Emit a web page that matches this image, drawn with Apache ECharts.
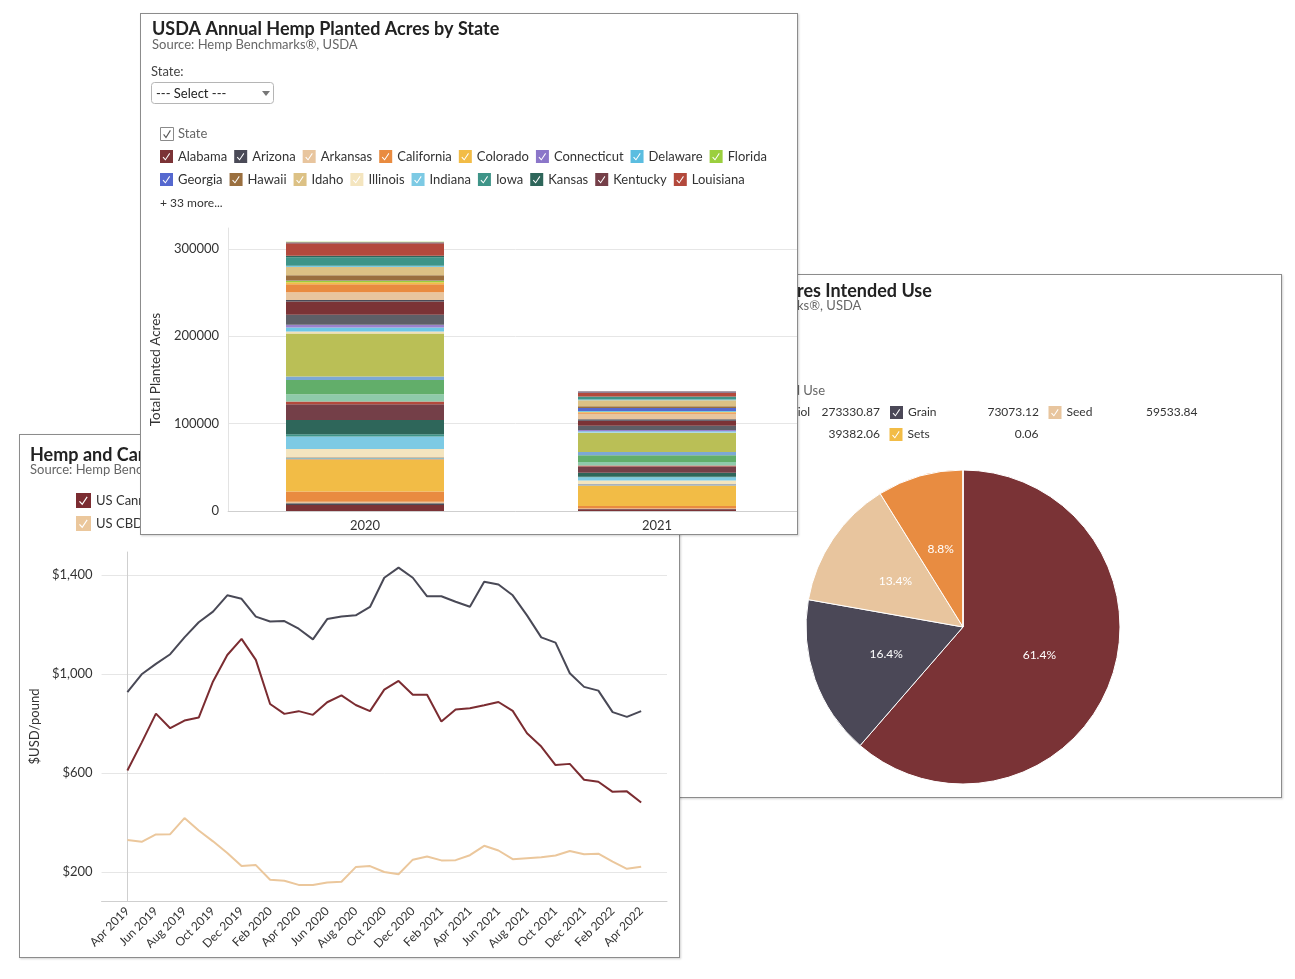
<!DOCTYPE html>
<html><head><meta charset="utf-8">
<script src="https://cdn.jsdelivr.net/npm/echarts@6/dist/echarts.min.js"></script>
<style>
html,body{margin:0;padding:0;background:#fff;width:1295px;height:979px;overflow:hidden;font-family:Lato,sans-serif}
.panel{position:absolute;background:#fff;border:1px solid #8c8c8c;box-sizing:border-box;box-shadow:1px 1px 2px rgba(0,0,0,0.18);overflow:hidden}
.chart{position:absolute;left:0;top:0;width:100%;height:100%}
</style></head><body>
<div class="panel" style="left:600px;top:274px;width:682px;height:524px;z-index:1"><div class="chart" id="cPie"></div></div>
<div class="panel" style="left:19px;top:434px;width:661px;height:524px;z-index:2"><div class="chart" id="cLine"></div></div>
<div class="panel" style="left:140px;top:13px;width:658px;height:522px;z-index:3"><div class="chart" id="cBar" style="width:720px"></div></div>
<script>
// ---------- data: planted acres by state ----------
const barCategories = ['2020', '2021'];
const states = ['Alabama','Arizona','Arkansas','California','Colorado','Connecticut','Delaware','Florida','Georgia','Hawaii','Idaho','Illinois','Indiana','Iowa','Kansas','Kentucky','Louisiana','Maine','Maryland','Massachusetts','Michigan','Minnesota','Mississippi','Missouri','Montana','Nebraska','Nevada','New Hampshire','New Jersey','New Mexico','New York','North Carolina','North Dakota','Ohio','Oklahoma','Oregon','Pennsylvania','Rhode Island','South Carolina','South Dakota','Tennessee','Texas','Utah','Vermont','Virginia','Washington','West Virginia','Wisconsin','Wyoming','Other States'];
const acres2020 = [6900,1900,1900,11500,37100,300,400,300,600,300,500,9200,14400,2600,16400,18000,3000,8400,16400,3800,49200,2300,4600,3100,11500,15200,1900,8800,9200,2300,1500,150,150,6100,9500,1500,9500,1900,14200,900,100,100,100,100,100,100,100,100,100,100];
const acres2021 = [1900,300,700,2700,23700,200,200,300,500,200,300,3800,3800,600,4600,7200,1000,4200,7600,3800,21800,600,1400,1400,4900,5700,1500,6500,1500,300,300,1000,3400,1900,7000,800,3100,500,4600,800,80,80,80,80,80,80,80,80,80,80];
const acreTicks = [0, 100000, 200000, 300000];
const legendRow1 = states.slice(0, 8);
const legendRow2 = states.slice(8, 17);

// ---------- data: prices ----------
const months = ['Apr 2019','May 2019','Jun 2019','Jul 2019','Aug 2019','Sep 2019','Oct 2019','Nov 2019','Dec 2019','Jan 2020','Feb 2020','Mar 2020','Apr 2020','May 2020','Jun 2020','Jul 2020','Aug 2020','Sep 2020','Oct 2020','Nov 2020','Dec 2020','Jan 2021','Feb 2021','Mar 2021','Apr 2021','May 2021','Jun 2021','Jul 2021','Aug 2021','Sep 2021','Oct 2021','Nov 2021','Dec 2021','Jan 2022','Feb 2022','Mar 2022','Apr 2022'];
const cannabisOutdoor = [610,723,840,781,812,824,970,1077,1142,1057,879,839,850,835,886,914,875,850,937,972,916,916,808,857,862,874,887,851,761,707,632,637,573,565,524,526,481];
const cannabisSpot = [927,999,1041,1080,1148,1209,1252,1318,1304,1232,1212,1214,1183,1140,1222,1232,1237,1271,1389,1430,1389,1314,1314,1292,1272,1373,1362,1318,1237,1148,1127,1003,948,933,846,827,850];
const cbdFlower = [329,322,352,353,418,368,324,277,224,228,169,165,148,148,158,161,220,224,200,191,250,263,247,248,268,306,287,252,256,260,267,285,272,274,242,213,221];
const priceTicks = [200, 600, 1000, 1400];
const priceNames = ['US Cannabis Outdoor Price', 'US Cannabis Spot Index', 'US CBD Flower Price'];

// ---------- data: intended use ----------
const useNames = ['Cannabidiol', 'Grain', 'Seed', 'Fiber', 'Sets'];
const useAcres = [273330.87, 73073.12, 59533.84, 39382.06, 0.06];

// ---------- styles ----------
const stateColors = ['#7b3336','#4a4a57','#e8c59e','#e98b40','#f2bc46','#8b76c9','#5bbde0','#9bcf3e','#5568cf','#9a6f3f','#dcc185','#f4e5bf','#7dcae4','#3e9488','#2e665a','#743f48','#b3493c','#8fcaaa','#62ae6a','#7ca8d4','#babf56','#f1e0b8','#6cc6e6','#9a81cc','#5e5f67','#7b3336','#4a4a57','#e8c59e','#e98b40','#f2bc46','#9bcf3e','#5bbde0','#5568cf','#9a6f3f','#dcc185','#7dcae4','#3e9488','#2e665a','#b3493c','#4b5f8f','#7b3336','#4a4a57','#e8c59e','#e98b40','#f2bc46','#8b76c9','#5bbde0','#9bcf3e','#5568cf','#9a6f3f'];
const priceColors = ['#7b2c31', '#494956', '#ebc79c'];
const useColors = ['#7a3336', '#4b4857', '#e8c59e', '#e88c41', '#f2bc46'];
const FONT = 'Lato';
const CHECK = 'path://M0,0H16V16H0Z M4.2,8.4L3.2,9.3L6.7,13L12.4,4.6L11.4,3.8L6.6,11Z';

function measure(txt, font) {
  const c = document.createElement('canvas').getContext('2d');
  c.font = font; return c.measureText(txt).width;
}
function hollowCheck(x, y) {
  return [
    {type:'rect', shape:{x:x+0.5, y:y+0.5, width:13, height:13}, style:{fill:'#fff', stroke:'#8a8a8a', lineWidth:1}},
    {type:'polyline', shape:{points:[[x+3.6,y+7.4],[x+6,y+10.6],[x+10.4,y+3.4]]}, style:{stroke:'#555', lineWidth:1.1, fill:null}}
  ];
}

// ---------- bar chart ----------
const barChart = echarts.init(document.getElementById('cBar'), null, {renderer:'canvas'});
const legendBase = {icon:CHECK, itemWidth:13, itemHeight:13, itemGap:7, selectedMode:false, padding:0,
  itemStyle:{borderWidth:0}, textStyle:{fontSize:13, color:'#333', fontFamily:FONT}};
barChart.setOption({
  animation:false,
  textStyle:{fontFamily:FONT},
  graphic:[
    {type:'text', x:11, y:15, style:{text:'USDA Annual Hemp Planted Acres by State', font:'bold 18px Lato', fill:'#222', verticalAlign:'middle'}},
    {type:'text', x:11, y:31, style:{text:'Source: Hemp Benchmarks®, USDA', font:'13px Lato', fill:'#666', verticalAlign:'middle'}},
    {type:'text', x:10, y:58, style:{text:'State:', font:'13px Lato', fill:'#444', verticalAlign:'middle'}},
    {type:'rect', shape:{x:10.5, y:68.5, width:122, height:21, r:3}, style:{fill:'#fff', stroke:'#b5b5b5', lineWidth:1}},
    {type:'text', x:15, y:79.5, style:{text:'--- Select ---', font:'13px Lato', fill:'#222', verticalAlign:'middle'}},
    {type:'polygon', shape:{points:[[121,77],[129,77],[125,82]]}, style:{fill:'#777'}},
    ...hollowCheck(19, 113),
    {type:'text', x:37, y:120, style:{text:'State', font:'13px Lato', fill:'#666', verticalAlign:'middle'}},
    {type:'text', x:19, y:189, style:{text:'+ 33 more...', font:'12px Lato', fill:'#333', verticalAlign:'middle'}}
  ],
  legend:[
    Object.assign({data:legendRow1, left:19, top:136}, legendBase),
    Object.assign({data:legendRow2, left:19, top:159}, legendBase)
  ],
  grid:[
    {left:84, top:214, width:578, height:283},
    {left:78, top:214, width:584, height:283}
  ],
  xAxis:[
    {type:'value', gridIndex:0, min:0, max:1,
      axisLine:{show:true, lineStyle:{color:'#cfcfcf'}},
      axisTick:{show:false}, splitLine:{show:false}, axisLabel:{show:false}},
    {type:'category', gridIndex:1, data:barCategories,
      axisLine:{show:false}, axisTick:{show:false}, splitLine:{show:false},
      axisLabel:{color:'#333', fontSize:13, margin:8}}
  ],
  yAxis:[
    {type:'value', gridIndex:0, min:0, max:324000,
      name:'Total Planted Acres', nameLocation:'middle', nameGap:62, nameRotate:90,
      nameTextStyle:{fontSize:13.5, color:'#333'},
      axisLine:{show:true, lineStyle:{color:'#e3e3e3'}},
      axisTick:{show:false, customValues:acreTicks},
      splitLine:{show:true, lineStyle:{color:'#e6e6e6'}},
      axisLabel:{customValues:acreTicks, formatter:v => String(v), color:'#333', fontSize:13, margin:9}},
    {type:'value', gridIndex:1, min:0, max:324000, show:false, splitLine:{show:false}}
  ],
  series: states.map((s, i) => ({
    type:'bar', name:s, stack:'acres', barWidth:158, xAxisIndex:1, yAxisIndex:1,
    itemStyle:{color:stateColors[i]},
    emphasis:{disabled:true},
    data: barCategories.map((c, j) => [acres2020, acres2021][j][i])
  }))
});

// ---------- line chart ----------
const lineChart = echarts.init(document.getElementById('cLine'), null, {renderer:'canvas'});
const monthTicks = months.map((m, i) => i).filter(i => i % 2 === 0);
const lineLegend = {icon:CHECK, itemWidth:15, itemHeight:15, itemGap:10, selectedMode:false, padding:0,
  itemStyle:{borderWidth:0}, textStyle:{fontSize:13, color:'#333', fontFamily:FONT}};
const priceSeries = [cannabisOutdoor, cannabisSpot, cbdFlower];
lineChart.setOption({
  animation:false,
  textStyle:{fontFamily:FONT},
  graphic:[
    {type:'text', x:10, y:20, style:{text:'Hemp and Cannabis Prices', font:'bold 18px Lato', fill:'#222', verticalAlign:'middle'}},
    {type:'text', x:10, y:35, style:{text:'Source: Hemp Benchmarks®, Cannabis Benchmarks®', font:'13px Lato', fill:'#666', verticalAlign:'middle'}}
  ],
  legend:[
    Object.assign({data:[priceNames[0], priceNames[1]], left:56, top:58}, lineLegend),
    Object.assign({data:[priceNames[2]], left:56, top:81}, lineLegend)
  ],
  grid:{left:78, top:117, width:569, height:349},
  xAxis:{type:'value', min:-1.8105, max:37.8105,
    axisLine:{show:true, lineStyle:{color:'#cfcfcf'}},
    axisTick:{show:false, customValues:monthTicks},
    splitLine:{show:false},
    axisLabel:{customValues:monthTicks, formatter:v => months[v], rotate:45, color:'#333', fontSize:12, margin:8}},
  yAxis:{type:'value', min:83, max:1493,
    name:'$USD/pound', nameLocation:'middle', nameGap:58, nameRotate:90,
    nameTextStyle:{fontSize:13, color:'#333'},
    axisLine:{show:true, lineStyle:{color:'#cfcfcf'}},
    axisTick:{show:false, customValues:priceTicks},
    splitLine:{show:true, lineStyle:{color:'#e6e6e6'}},
    axisLabel:{customValues:priceTicks, formatter:v => '$' + v.toLocaleString('en-US'), color:'#333', fontSize:13, margin:9}},
  series: priceNames.map((n, k) => ({
    type:'line', name:n, showSymbol:false, symbol:'none',
    lineStyle:{width:2, color:priceColors[k]}, itemStyle:{color:priceColors[k]},
    emphasis:{disabled:true},
    data: months.map((m, i) => [i, priceSeries[k][i]])
  }))
});

// ---------- pie chart ----------
const pieChart = echarts.init(document.getElementById('cPie'), null, {renderer:'canvas'});
const pieTitle = 'USDA Hemp Planted Acres Intended Use';
const pieSub = 'Source: Hemp Benchmarks®, USDA';
const titleX = 196 - measure('USDA Hemp Planted Ac', 'bold 18px Lato');
const subX = 196 - measure('Source: Hemp Benchmar', '13px Lato');
const fmtUse = name => useAcres[useNames.indexOf(name)].toFixed(2);
const firstW = Math.ceil(measure(useNames[0], '12px Lato'));
function pieLegend(extra, nameW, valW) {
  return Object.assign({icon:CHECK, itemWidth:13, itemHeight:13, itemGap:9.5, selectedMode:false, padding:0,
    itemStyle:{borderWidth:0},
    formatter: name => '{n|' + name + '}{v|' + fmtUse(name) + '}',
    textStyle:{fontSize:12, color:'#333', fontFamily:FONT,
      rich:{n:{width:nameW, fontSize:12, color:'#333', fontFamily:FONT}, v:{width:valW, align:'right', fontSize:12, color:'#333', fontFamily:FONT}}}}, extra);
}
pieChart.setOption({
  animation:false,
  textStyle:{fontFamily:FONT},
  graphic:[
    {type:'text', x:titleX, y:16, style:{text:pieTitle, font:'bold 18px Lato', fill:'#222', verticalAlign:'middle'}},
    {type:'text', x:subX, y:31, style:{text:pieSub, font:'13px Lato', fill:'#666', verticalAlign:'middle'}},
    ...hollowCheck(130, 109),
    {type:'text', x:224, y:116, style:{text:'Intended Use', font:'13px Lato', fill:'#666', verticalAlign:'middle', align:'right'}}
  ],
  legend:[
    pieLegend({data:[useNames[0]], left:210 - firstW - 18, top:131}, firstW, 69),
    pieLegend({data:useNames.slice(1,3), left:289, top:131}, 62, 69),
    pieLegend({data:useNames.slice(3), left:130, top:153}, 62, 69)
  ],
  series:[{
    type:'pie', center:[362, 352], radius:157, startAngle:90, clockwise:true,
    emphasis:{disabled:true},
    itemStyle:{borderColor:'#fff', borderWidth:1},
    label:{position:'inside', color:'#fff', fontSize:12, fontFamily:FONT,
      formatter: p => p.percent >= 1 ? p.percent.toFixed(1) + '%' : ''},
    labelLine:{show:false},
    data: useNames.map((n, i) => ({name:n, value:useAcres[i], itemStyle:{color:useColors[i]}}))
  }]
});
</script>
</body></html>
